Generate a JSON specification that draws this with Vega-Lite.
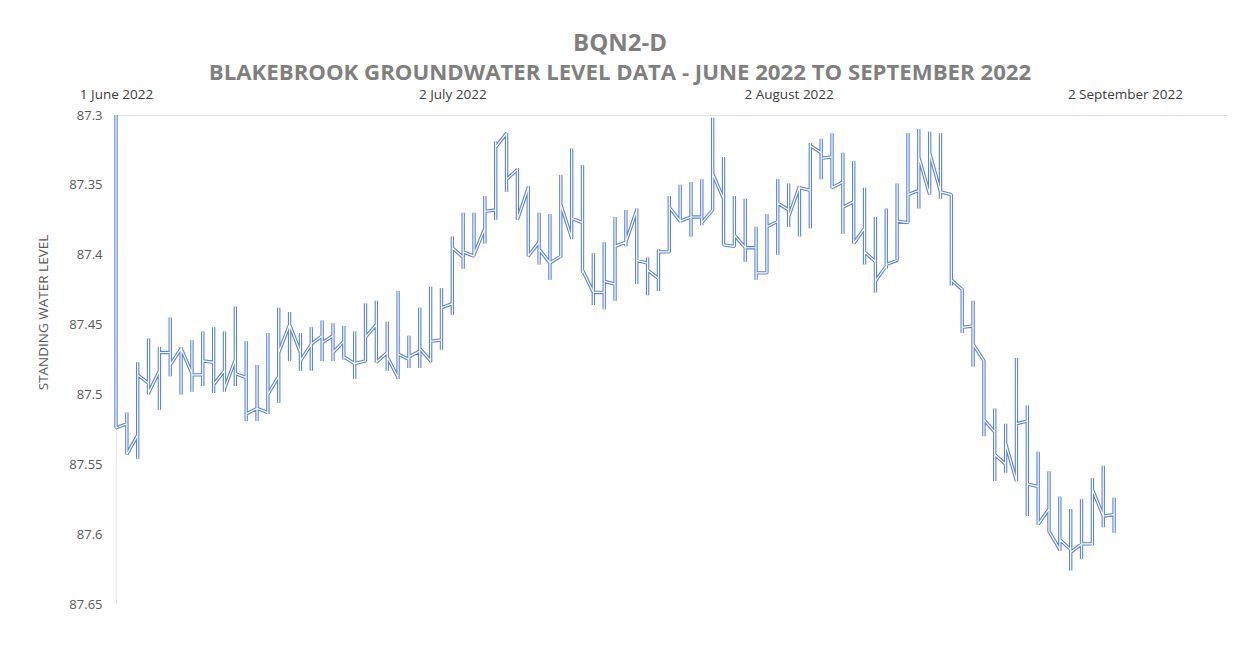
{
  "$schema": "https://vega.github.io/schema/vega-lite/v6.json",
  "width": 1112,
  "height": 489,
  "autosize": {"type": "none"},
  "padding": {"left": 116, "top": 115, "right": 14, "bottom": 41},
  "background": "white",
  "config": {"view": {"stroke": null}, "font": "Open Sans"},
  "title": {
    "text": "BQN2-D",
    "subtitle": "BLAKEBROOK GROUNDWATER LEVEL DATA - JUNE 2022 TO SEPTEMBER 2022",
    "anchor": "middle",
    "frame": "group",
    "dx": -52,
    "font": "Open Sans",
    "fontSize": 24,
    "fontWeight": "bold",
    "color": "#7f7f7f",
    "subtitleFont": "Open Sans",
    "subtitleFontSize": 22.2,
    "subtitleFontWeight": "bold",
    "subtitleColor": "#7f7f7f",
    "subtitlePadding": 6,
    "offset": 3
  },
  "data": {"values": [
    {"date": "2022-06-01", "open": 87.300, "low": 87.300, "high": 87.524, "close": 87.524},
    {"date": "2022-06-02", "open": 87.521, "low": 87.513, "high": 87.543, "close": 87.543},
    {"date": "2022-06-03", "open": 87.529, "low": 87.477, "high": 87.546, "close": 87.486},
    {"date": "2022-06-04", "open": 87.492, "low": 87.460, "high": 87.500, "close": 87.499},
    {"date": "2022-06-05", "open": 87.483, "low": 87.466, "high": 87.511, "close": 87.470},
    {"date": "2022-06-06", "open": 87.470, "low": 87.445, "high": 87.487, "close": 87.479},
    {"date": "2022-06-07", "open": 87.467, "low": 87.466, "high": 87.500, "close": 87.467},
    {"date": "2022-06-08", "open": 87.485, "low": 87.461, "high": 87.498, "close": 87.486},
    {"date": "2022-06-09", "open": 87.486, "low": 87.455, "high": 87.494, "close": 87.476},
    {"date": "2022-06-10", "open": 87.477, "low": 87.452, "high": 87.499, "close": 87.493},
    {"date": "2022-06-11", "open": 87.483, "low": 87.455, "high": 87.498, "close": 87.496},
    {"date": "2022-06-12", "open": 87.475, "low": 87.437, "high": 87.494, "close": 87.485},
    {"date": "2022-06-13", "open": 87.488, "low": 87.462, "high": 87.519, "close": 87.514},
    {"date": "2022-06-14", "open": 87.510, "low": 87.479, "high": 87.519, "close": 87.510},
    {"date": "2022-06-15", "open": 87.513, "low": 87.456, "high": 87.514, "close": 87.500},
    {"date": "2022-06-16", "open": 87.487, "low": 87.438, "high": 87.506, "close": 87.470},
    {"date": "2022-06-17", "open": 87.450, "low": 87.441, "high": 87.476, "close": 87.450},
    {"date": "2022-06-18", "open": 87.470, "low": 87.456, "high": 87.483, "close": 87.476},
    {"date": "2022-06-19", "open": 87.464, "low": 87.452, "high": 87.483, "close": 87.464},
    {"date": "2022-06-20", "open": 87.458, "low": 87.447, "high": 87.476, "close": 87.463},
    {"date": "2022-06-21", "open": 87.458, "low": 87.449, "high": 87.476, "close": 87.470},
    {"date": "2022-06-22", "open": 87.462, "low": 87.451, "high": 87.475, "close": 87.473},
    {"date": "2022-06-23", "open": 87.478, "low": 87.455, "high": 87.489, "close": 87.478},
    {"date": "2022-06-24", "open": 87.476, "low": 87.435, "high": 87.476, "close": 87.459},
    {"date": "2022-06-25", "open": 87.450, "low": 87.433, "high": 87.477, "close": 87.477},
    {"date": "2022-06-26", "open": 87.470, "low": 87.448, "high": 87.483, "close": 87.473},
    {"date": "2022-06-27", "open": 87.488, "low": 87.426, "high": 87.489, "close": 87.471},
    {"date": "2022-06-28", "open": 87.475, "low": 87.458, "high": 87.481, "close": 87.473},
    {"date": "2022-06-29", "open": 87.469, "low": 87.438, "high": 87.481, "close": 87.467},
    {"date": "2022-06-30", "open": 87.476, "low": 87.423, "high": 87.477, "close": 87.462},
    {"date": "2022-07-01", "open": 87.461, "low": 87.424, "high": 87.468, "close": 87.438},
    {"date": "2022-07-02", "open": 87.435, "low": 87.387, "high": 87.443, "close": 87.395},
    {"date": "2022-07-03", "open": 87.402, "low": 87.370, "high": 87.410, "close": 87.398},
    {"date": "2022-07-04", "open": 87.401, "low": 87.370, "high": 87.401, "close": 87.400},
    {"date": "2022-07-05", "open": 87.381, "low": 87.358, "high": 87.392, "close": 87.369},
    {"date": "2022-07-06", "open": 87.368, "low": 87.319, "high": 87.375, "close": 87.323},
    {"date": "2022-07-07", "open": 87.313, "low": 87.313, "high": 87.355, "close": 87.346},
    {"date": "2022-07-08", "open": 87.339, "low": 87.338, "high": 87.375, "close": 87.375},
    {"date": "2022-07-09", "open": 87.352, "low": 87.351, "high": 87.401, "close": 87.401},
    {"date": "2022-07-10", "open": 87.391, "low": 87.370, "high": 87.407, "close": 87.396},
    {"date": "2022-07-11", "open": 87.406, "low": 87.371, "high": 87.418, "close": 87.406},
    {"date": "2022-07-12", "open": 87.401, "low": 87.343, "high": 87.402, "close": 87.364},
    {"date": "2022-07-13", "open": 87.388, "low": 87.324, "high": 87.389, "close": 87.374},
    {"date": "2022-07-14", "open": 87.377, "low": 87.336, "high": 87.413, "close": 87.411},
    {"date": "2022-07-15", "open": 87.427, "low": 87.399, "high": 87.436, "close": 87.427},
    {"date": "2022-07-16", "open": 87.427, "low": 87.391, "high": 87.439, "close": 87.419},
    {"date": "2022-07-17", "open": 87.421, "low": 87.373, "high": 87.433, "close": 87.394},
    {"date": "2022-07-18", "open": 87.391, "low": 87.368, "high": 87.394, "close": 87.391},
    {"date": "2022-07-19", "open": 87.368, "low": 87.367, "high": 87.421, "close": 87.404},
    {"date": "2022-07-20", "open": 87.406, "low": 87.402, "high": 87.429, "close": 87.411},
    {"date": "2022-07-21", "open": 87.417, "low": 87.396, "high": 87.426, "close": 87.398},
    {"date": "2022-07-22", "open": 87.398, "low": 87.358, "high": 87.398, "close": 87.366},
    {"date": "2022-07-23", "open": 87.376, "low": 87.350, "high": 87.377, "close": 87.376},
    {"date": "2022-07-24", "open": 87.373, "low": 87.348, "high": 87.387, "close": 87.373},
    {"date": "2022-07-25", "open": 87.373, "low": 87.346, "high": 87.379, "close": 87.377},
    {"date": "2022-07-26", "open": 87.368, "low": 87.302, "high": 87.368, "close": 87.342},
    {"date": "2022-07-27", "open": 87.360, "low": 87.330, "high": 87.393, "close": 87.393},
    {"date": "2022-07-28", "open": 87.394, "low": 87.358, "high": 87.393, "close": 87.386},
    {"date": "2022-07-29", "open": 87.395, "low": 87.360, "high": 87.405, "close": 87.395},
    {"date": "2022-07-30", "open": 87.395, "low": 87.380, "high": 87.418, "close": 87.413},
    {"date": "2022-07-31", "open": 87.413, "low": 87.371, "high": 87.413, "close": 87.380},
    {"date": "2022-08-01", "open": 87.376, "low": 87.346, "high": 87.400, "close": 87.363},
    {"date": "2022-08-02", "open": 87.368, "low": 87.349, "high": 87.380, "close": 87.373},
    {"date": "2022-08-03", "open": 87.351, "low": 87.351, "high": 87.387, "close": 87.352},
    {"date": "2022-08-04", "open": 87.354, "low": 87.320, "high": 87.381, "close": 87.322},
    {"date": "2022-08-05", "open": 87.327, "low": 87.317, "high": 87.346, "close": 87.331},
    {"date": "2022-08-06", "open": 87.330, "low": 87.313, "high": 87.352, "close": 87.352},
    {"date": "2022-08-07", "open": 87.348, "low": 87.327, "high": 87.385, "close": 87.366},
    {"date": "2022-08-08", "open": 87.362, "low": 87.333, "high": 87.392, "close": 87.392},
    {"date": "2022-08-09", "open": 87.381, "low": 87.352, "high": 87.407, "close": 87.398},
    {"date": "2022-08-10", "open": 87.405, "low": 87.373, "high": 87.427, "close": 87.419},
    {"date": "2022-08-11", "open": 87.408, "low": 87.367, "high": 87.410, "close": 87.407},
    {"date": "2022-08-12", "open": 87.404, "low": 87.349, "high": 87.404, "close": 87.376},
    {"date": "2022-08-13", "open": 87.377, "low": 87.313, "high": 87.377, "close": 87.357},
    {"date": "2022-08-14", "open": 87.354, "low": 87.310, "high": 87.367, "close": 87.330},
    {"date": "2022-08-15", "open": 87.357, "low": 87.312, "high": 87.357, "close": 87.327},
    {"date": "2022-08-16", "open": 87.355, "low": 87.313, "high": 87.360, "close": 87.355},
    {"date": "2022-08-17", "open": 87.357, "low": 87.357, "high": 87.422, "close": 87.418},
    {"date": "2022-08-18", "open": 87.425, "low": 87.424, "high": 87.456, "close": 87.452},
    {"date": "2022-08-19", "open": 87.451, "low": 87.433, "high": 87.480, "close": 87.464},
    {"date": "2022-08-20", "open": 87.476, "low": 87.476, "high": 87.530, "close": 87.518},
    {"date": "2022-08-21", "open": 87.527, "low": 87.510, "high": 87.562, "close": 87.543},
    {"date": "2022-08-22", "open": 87.550, "low": 87.521, "high": 87.556, "close": 87.535},
    {"date": "2022-08-23", "open": 87.562, "low": 87.474, "high": 87.562, "close": 87.521},
    {"date": "2022-08-24", "open": 87.519, "low": 87.508, "high": 87.587, "close": 87.564},
    {"date": "2022-08-25", "open": 87.566, "low": 87.541, "high": 87.593, "close": 87.593},
    {"date": "2022-08-26", "open": 87.582, "low": 87.555, "high": 87.598, "close": 87.598},
    {"date": "2022-08-27", "open": 87.611, "low": 87.573, "high": 87.612, "close": 87.604},
    {"date": "2022-08-28", "open": 87.611, "low": 87.582, "high": 87.626, "close": 87.613},
    {"date": "2022-08-29", "open": 87.607, "low": 87.575, "high": 87.618, "close": 87.607},
    {"date": "2022-08-30", "open": 87.607, "low": 87.560, "high": 87.608, "close": 87.568},
    {"date": "2022-08-31", "open": 87.587, "low": 87.551, "high": 87.595, "close": 87.587},
    {"date": "2022-09-01", "open": 87.586, "low": 87.574, "high": 87.599, "close": 87.586}
  ]},
  "transform": [{"fold": ["open", "low", "high", "close"], "as": ["k", "v"]}],
  "encoding": {
    "x": {
      "field": "date",
      "type": "temporal",
      "scale": {
        "type": "utc",
        "domain": [
          {"year": 2022, "month": 6, "date": 1, "utc": true},
          {"year": 2022, "month": 9, "date": 11, "hours": 12, "utc": true}
        ]
      },
      "axis": {
        "orient": "top",
        "title": null,
        "grid": false,
        "ticks": false,
        "domainColor": "#e2e2e2",
        "domainWidth": 1,
        "values": [
          {"year": 2022, "month": 6, "date": 1, "utc": true},
          {"year": 2022, "month": 7, "date": 2, "utc": true},
          {"year": 2022, "month": 8, "date": 2, "utc": true},
          {"year": 2022, "month": 9, "date": 2, "utc": true}
        ],
        "labelExpr": "utcFormat(datum.value, '%-d %B %Y')",
        "labelFont": "Open Sans",
        "labelFontSize": 13.5,
        "labelColor": "#404040",
        "labelPadding": 14,
        "labelOverlap": false,
        "labelFlush": false
      }
    },
    "y": {
      "field": "v",
      "type": "quantitative",
      "scale": {"domain": [87.3, 87.65], "reverse": true, "zero": false, "nice": false},
      "axis": {
        "title": "STANDING WATER LEVEL",
        "titleFont": "Open Sans",
        "titleFontSize": 13.5,
        "titleFontWeight": "normal",
        "titleColor": "#595959",
        "titlePadding": 18,
        "titleY": 197,
        "grid": false,
        "ticks": false,
        "domainColor": "#e8e8e8",
        "values": [87.3, 87.35, 87.4, 87.45, 87.5, 87.55, 87.6, 87.65],
        "format": ".2~f",
        "labelFont": "Open Sans",
        "labelFontSize": 13,
        "labelColor": "#595959",
        "labelPadding": 14
      }
    },
    "order": [
      {"field": "date", "type": "temporal", "sort": "ascending"},
      {"field": "k", "type": "nominal", "sort": "descending"}
    ]
  },
  "layer": [
    {"mark": {"type": "line", "color": "#5b84e3", "strokeWidth": 3.4, "strokeJoin": "bevel"}},
    {"mark": {"type": "line", "color": "#ffffff", "strokeWidth": 1.2, "strokeJoin": "bevel"}}
  ]
}
